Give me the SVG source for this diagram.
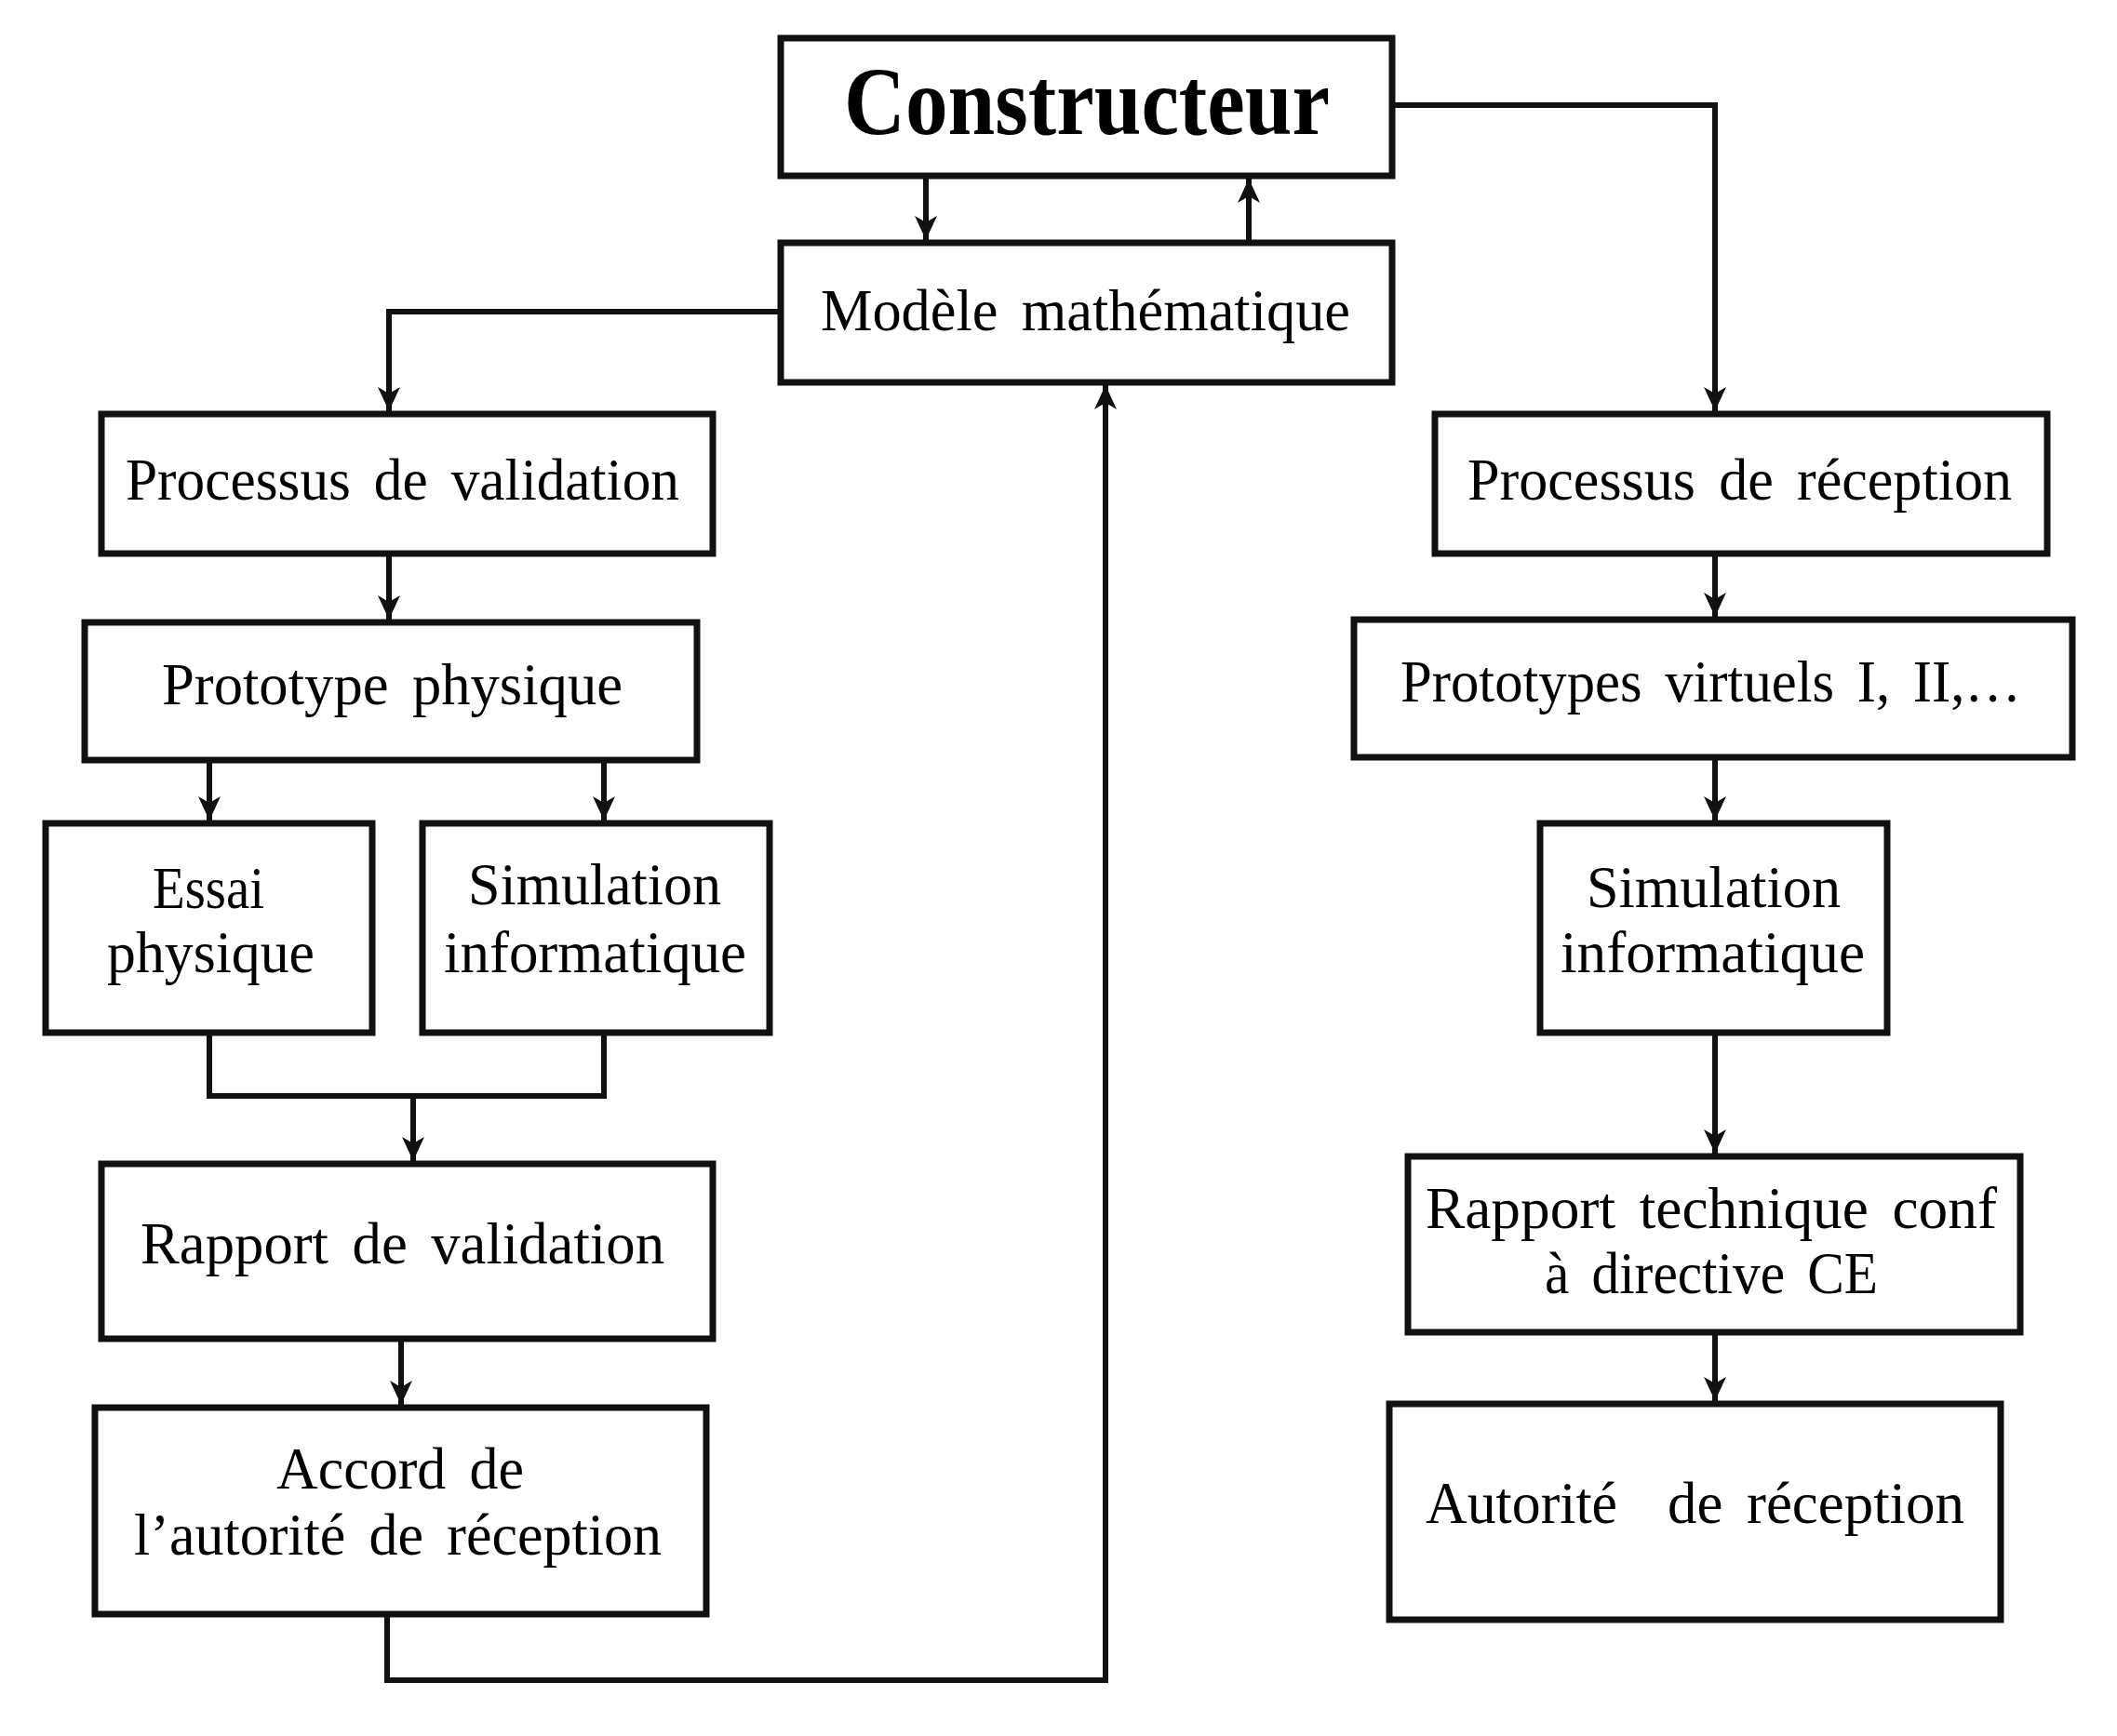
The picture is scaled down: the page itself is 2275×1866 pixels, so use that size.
<svg xmlns="http://www.w3.org/2000/svg" width="2275" height="1866" viewBox="0 0 2275 1866">
<style>
.box{fill:#fff;stroke:#111;stroke-width:7}
.t{font-family:"Liberation Serif","Times New Roman",serif;font-size:64px;fill:#000;word-spacing:10px}
.tb{font-family:"Liberation Serif","Times New Roman",serif;font-size:104px;font-weight:bold;fill:#000}
.c{fill:none;stroke:#111;stroke-width:6}
</style>
<defs>
<marker id="ah" markerUnits="userSpaceOnUse" markerWidth="26" markerHeight="24" viewBox="0 0 26 24" refX="26" refY="12" orient="auto">
<path d="M0,0 L26,12 L0,24 L7,12 Z" fill="#111"/>
</marker>
</defs>
<rect width="2275" height="1866" fill="#fff"/>
<g id="connectors">
<path class="c" d="M995,192 V258" marker-end="url(#ah)"/>
<path class="c" d="M1342,258 V192" marker-end="url(#ah)"/>
<path class="c" d="M839,335 H418 V442" marker-end="url(#ah)"/>
<path class="c" d="M1496,113 H1843 V442" marker-end="url(#ah)"/>
<path class="c" d="M418,598 V666" marker-end="url(#ah)"/>
<path class="c" d="M225,820 V882" marker-end="url(#ah)"/>
<path class="c" d="M649,820 V882" marker-end="url(#ah)"/>
<path class="c" d="M225,1113 V1178 H649 V1113"/>
<path class="c" d="M444,1178 V1248" marker-end="url(#ah)"/>
<path class="c" d="M431,1442 V1510" marker-end="url(#ah)"/>
<path class="c" d="M416,1738 V1806 H1188 V414" marker-end="url(#ah)"/>
<path class="c" d="M1843,598 V663" marker-end="url(#ah)"/>
<path class="c" d="M1843,817 V882" marker-end="url(#ah)"/>
<path class="c" d="M1843,1113 V1240" marker-end="url(#ah)"/>
<path class="c" d="M1843,1435 V1506" marker-end="url(#ah)"/>
</g>
<g id="n-constructeur">
<rect class="box" x="839" y="41" width="657" height="148"/>
<text class="tb" x="907" y="144" textLength="522" lengthAdjust="spacingAndGlyphs">Constructeur</text>
</g>
<g id="n-modele">
<rect class="box" x="839" y="261" width="657" height="150"/>
<text class="t" x="882" y="355" textLength="569" lengthAdjust="spacingAndGlyphs">Modèle mathématique</text>
</g>
<g id="n-proc-validation">
<rect class="box" x="109" y="445" width="657" height="150"/>
<text class="t" x="135" y="537" textLength="595" lengthAdjust="spacingAndGlyphs">Processus de validation</text>
</g>
<g id="n-proto-physique">
<rect class="box" x="91" y="669" width="658" height="148"/>
<text class="t" x="174" y="757" textLength="495" lengthAdjust="spacingAndGlyphs">Prototype physique</text>
</g>
<g id="n-essai">
<rect class="box" x="49" y="885" width="351" height="225"/>
<text class="t" x="164" y="976" textLength="120" lengthAdjust="spacingAndGlyphs">Essai</text>
<text class="t" x="115" y="1045" textLength="223" lengthAdjust="spacingAndGlyphs">physique</text>
</g>
<g id="n-sim-left">
<rect class="box" x="454" y="885" width="373" height="225"/>
<text class="t" x="503" y="972" textLength="272" lengthAdjust="spacingAndGlyphs">Simulation</text>
<text class="t" x="477" y="1045" textLength="325" lengthAdjust="spacingAndGlyphs">informatique</text>
</g>
<g id="n-rapport-validation">
<rect class="box" x="109" y="1251" width="657" height="188"/>
<text class="t" x="151" y="1358" textLength="563" lengthAdjust="spacingAndGlyphs">Rapport de validation</text>
</g>
<g id="n-accord">
<rect class="box" x="102" y="1513" width="657" height="222"/>
<text class="t" x="297" y="1600" textLength="266" lengthAdjust="spacingAndGlyphs">Accord de</text>
<text class="t" x="144" y="1671" textLength="567" lengthAdjust="spacingAndGlyphs">l’autorité de réception</text>
</g>
<g id="n-proc-reception">
<rect class="box" x="1542" y="445" width="658" height="150"/>
<text class="t" x="1577" y="537" textLength="585" lengthAdjust="spacingAndGlyphs">Processus de réception</text>
</g>
<g id="n-proto-virtuels">
<rect class="box" x="1455" y="666" width="772" height="148"/>
<text class="t" x="1505" y="754" textLength="667" lengthAdjust="spacingAndGlyphs">Prototypes virtuels I, II,…</text>
</g>
<g id="n-sim-right">
<rect class="box" x="1655" y="885" width="373" height="225"/>
<text class="t" x="1705" y="975" textLength="273" lengthAdjust="spacingAndGlyphs">Simulation</text>
<text class="t" x="1677" y="1045" textLength="327" lengthAdjust="spacingAndGlyphs">informatique</text>
</g>
<g id="n-rapport-technique">
<rect class="box" x="1513" y="1243" width="658" height="189"/>
<text class="t" x="1532" y="1320" textLength="614" lengthAdjust="spacingAndGlyphs">Rapport technique conf</text>
<text class="t" x="1660" y="1390" textLength="358" lengthAdjust="spacingAndGlyphs">à directive CE</text>
</g>
<g id="n-autorite">
<rect class="box" x="1493" y="1509" width="657" height="232"/>
<text class="t" y="1637"><tspan x="1532" textLength="206" lengthAdjust="spacingAndGlyphs">Autorité</tspan> <tspan x="1792" textLength="319" lengthAdjust="spacingAndGlyphs">de réception</tspan></text>
</g>
</svg>
